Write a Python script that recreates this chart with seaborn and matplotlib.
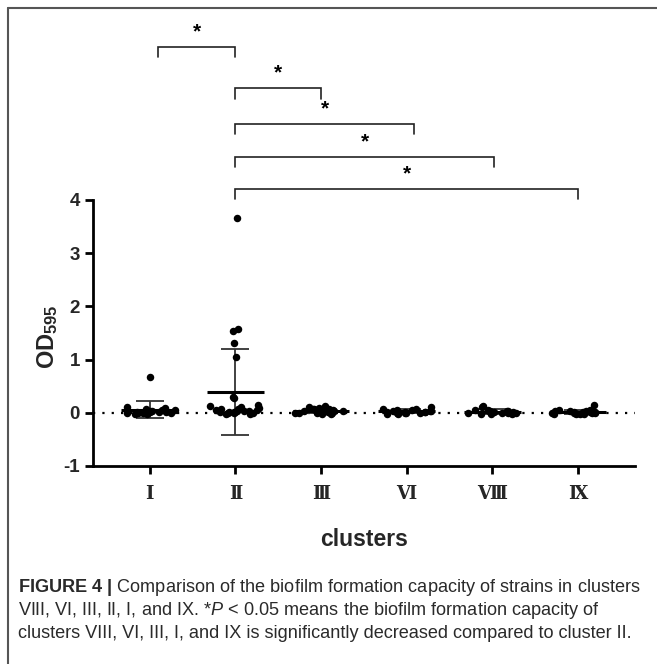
import numpy as np
import pandas as pd
import matplotlib
matplotlib.use('Agg')
import matplotlib.pyplot as plt
import seaborn as sns
from matplotlib.lines import Line2D

# ---------------- data ----------------
clusters = ['Ⅰ', 'Ⅱ', 'Ⅲ', 'Ⅵ', 'Ⅷ', 'Ⅸ']
od_I = [0.68, 0.10, 0.09, 0.07, 0.06, 0.05, 0.04, 0.04, 0.03, 0.02, 0.02, 0.01,
        0.01, 0.00, 0.00, -0.01, -0.01, -0.02, -0.03]
od_II = [3.66, 1.58, 1.53, 1.31, 1.04, 0.29, 0.27, 0.14, 0.12, 0.10, 0.09, 0.08,
         0.07, 0.06, 0.05, 0.04, 0.04, 0.03, 0.02, 0.02, 0.01, 0.01, 0.00, 0.00,
         -0.01, -0.02, -0.03]
od_III = [0.12, 0.10, 0.09, 0.08, 0.07, 0.07, 0.06, 0.05, 0.05, 0.04, 0.03, 0.03,
          0.02, 0.02, 0.01, 0.01, 0.00, 0.00, -0.01, -0.01, -0.02, -0.03]
od_VI = [0.11, 0.08, 0.07, 0.06, 0.05, 0.04, 0.04, 0.03, 0.02, 0.02, 0.01, 0.01,
         0.00, 0.00, -0.01, -0.01, -0.02, -0.03]
od_VIII = [0.13, 0.11, 0.06, 0.05, 0.04, 0.03, 0.03, 0.02, 0.02, 0.01, 0.01, 0.00,
           0.00, -0.01, -0.01, -0.02, -0.02, -0.03]
od_IX = [0.14, 0.06, 0.05, 0.04, 0.03, 0.03, 0.02, 0.02, 0.01, 0.01, 0.00, 0.00,
         -0.01, -0.01, -0.02, -0.02, -0.03, -0.03]
y_ticks = [-1, 0, 1, 2, 3, 4]
y_tick_labels = ['-1', '0', '1', '2', '3', '4']
# significance comparisons (pairs of category indices)
comp_left = [0, 1, 1, 1, 1]
comp_right = [1, 2, 3, 4, 5]
comp_label = ['*', '*', '*', '*', '*']
caption_lines = [
    r"$\mathbf{FIGURE\ 4\ |}$ Comparison of the biofilm formation capacity of strains in clusters",
    r"VIII, VI, III, II, I, and IX. *$P$ < 0.05 means the biofilm formation capacity of",
    r"clusters VIII, VI, III, I, and IX is significantly decreased compared to cluster II.",
]

all_vals = [od_I, od_II, od_III, od_VI, od_VIII, od_IX]
df = pd.DataFrame({
    'cluster': np.concatenate([[c] * len(v) for c, v in zip(clusters, all_vals)]),
    'od': np.concatenate(all_vals),
})
band = df[df['od'] < 0.2]
high = df[df['od'] >= 0.2]

# ---------------- style ----------------
sns.set_theme(style='white')
plt.rcParams['font.family'] = ['Liberation Sans', 'DejaVu Sans']
plt.rcParams['mathtext.fontset'] = 'custom'
plt.rcParams['mathtext.rm'] = 'Liberation Sans'
plt.rcParams['mathtext.it'] = 'Liberation Sans:italic'
plt.rcParams['mathtext.bf'] = 'Liberation Sans:bold'

W, H = 657, 664
fig = plt.figure(figsize=(W / 100, H / 100), dpi=100)
fig.patch.set_facecolor('white')

x0, x1 = 92.5, 635
ytop_px, yax_px = 0, 466
ax = fig.add_axes([x0 / W, 1 - yax_px / H, (x1 - x0) / W, (yax_px - ytop_px) / H])
ax.set_facecolor('none')

np.random.seed(7)
sns.stripplot(data=band, x='cluster', y='od', order=clusters, color='black',
              size=5.4, jitter=0.31, ax=ax, zorder=3)
sns.stripplot(data=high, x='cluster', y='od', order=clusters, color='black',
              size=5.4, jitter=0.03, ax=ax, zorder=3)

# mean and SD
stats = df.groupby('cluster', sort=False)['od'].agg(['mean', 'std']).reindex(clusters)
xs = np.arange(len(clusters))
ax.errorbar(xs, stats['mean'], yerr=stats['std'], fmt='none', ecolor='#333333',
            elinewidth=1.3, capsize=10, capthick=1.3, zorder=2)
ax.hlines(stats['mean'], xs - 0.33, xs + 0.33, colors='black', linewidth=2.2, zorder=2)

# zero line
ax.axhline(0, color='black', linewidth=1.6, linestyle=(0, (1, 3.2)), zorder=1)

# limits / axes
ppu = 53.3
ax.set_xlim(-0.668, 5.665)
ax.set_ylim(-1, (413.3 - ytop_px) / ppu)
ax.set_yticks(y_ticks)
ax.set_yticklabels(y_tick_labels, fontsize=13.5, fontweight='bold')
ax.set_xticks(xs)
ax.set_xticklabels(clusters, fontsize=13, fontweight='bold',
                   family=['DejaVu Serif', 'Noto Sans CJK JP'])
for s in ['top', 'right']:
    ax.spines[s].set_visible(False)
for s in ['left', 'bottom']:
    ax.spines[s].set_linewidth(2.0)
    ax.spines[s].set_color('black')
ax.spines['left'].set_bounds(-1, 4)
ax.tick_params(axis='both', length=6, width=2.0, color='black', direction='out',
               left=True, bottom=True, pad=3)
ax.tick_params(axis='x', pad=8)
ax.set_xlabel('clusters', fontsize=16.5, fontweight='bold', labelpad=18)
ax.set_ylabel(r'$\mathbf{OD}_{\mathbf{595}}$', fontsize=17)
ax.yaxis.set_label_coords((60 - x0) / (x1 - x0), (yax_px - 337) / (yax_px - ytop_px))

# significance brackets
bracket_y = [6.88, 6.10, 5.43, 4.81, 4.21]
left_off = [0.1, 0, 0, 0, 0]
right_off = [0, 0.005, 0.09, 0.02, 0]
drop = 0.2
for l, r, lab, yb, lo, ro in zip(comp_left, comp_right, comp_label, bracket_y, left_off, right_off):
    xl, xr = l + lo, r + ro
    ax.plot([xl, xl, xr, xr], [yb - drop, yb, yb, yb - drop], color='#222222',
            linewidth=1.2, clip_on=False, solid_joinstyle='miter')
    ax.text((xl + xr) / 2, yb + 0.1, lab, ha='center', va='bottom', fontsize=15,
            fontweight='bold', color='black')

# frame lines (top & left)
fig.add_artist(Line2D([8 / W, 1], [1 - 8 / H, 1 - 8 / H], color='#555555', linewidth=1.5))
fig.add_artist(Line2D([8 / W, 8 / W], [0, 1 - 8 / H], color='#555555', linewidth=1.5))

# caption
for i, line in enumerate(caption_lines):
    fig.text(18 / W, 1 - (587 + i * 23.5) / H, line, fontsize=13.1, color='#2a2a2a',
             ha='left', va='center')

fig.savefig('out.png', dpi=100, facecolor='white')
